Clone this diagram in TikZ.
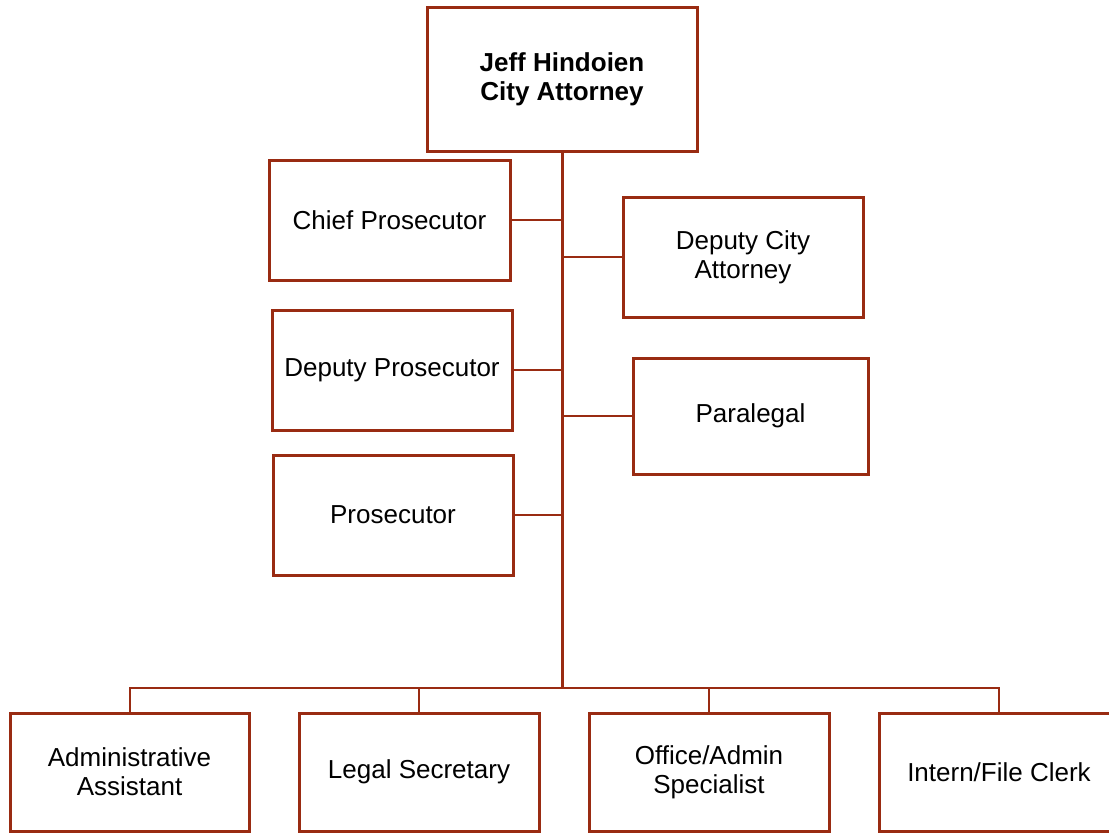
\documentclass[tikz,border=0pt]{standalone}
\usepackage{fontspec}
\setmainfont{Liberation Sans}
\definecolor{rust}{RGB}{153,43,18}
\begin{document}
\begin{tikzpicture}[x=1pt,y=-1pt,
  box/.style={draw=rust,line width=3pt,fill=white,rectangle,align=center,
    inner sep=0pt,font=\fontsize{26}{29}\selectfont},
  link/.style={draw=rust,line width=2pt},
  trunk/.style={draw=rust,line width=3pt}]
\clip (0,0) rectangle (1109,833);
\useasboundingbox (0,0) rectangle (1109,833);

% head of office
\node[box,minimum width=270pt,minimum height=144pt,font=\fontsize{26}{29}\selectfont\bfseries]
  (head) at (562,79) {Jeff Hindoien\\City Attorney};

% staff beside the trunk
\node[box,minimum width=241pt,minimum height=120pt] (chief) at (389.5,220) {Chief Prosecutor};
\node[box,minimum width=240pt,minimum height=120pt] (dca) at (743,257) {Deputy City\\Attorney};
\node[box,minimum width=240pt,minimum height=120pt] (dp) at (392,370) {Deputy Prosecutor};
\node[box,minimum width=235pt,minimum height=116pt] (para) at (750.5,416) {Paralegal};
\node[box,minimum width=240pt,minimum height=120pt] (pros) at (393,515) {Prosecutor};

% support staff row
\node[box,minimum width=239pt,minimum height=118pt] (admin) at (129.5,772) {Administrative\\Assistant};
\node[box,minimum width=240pt,minimum height=118pt] (legal) at (419,772) {Legal Secretary};
\node[box,minimum width=240pt,minimum height=118pt] (office) at (709,772) {Office/Admin\\Specialist};
\node[box,minimum width=240pt,minimum height=118pt] (intern) at (999,772) {Intern/File Clerk};

\coordinate (bus) at (562,688);

% connectors
\draw[link] (admin.north) |- (bus);
\draw[link] (legal.north) |- (bus);
\draw[link] (office.north) |- (bus);
\draw[link] (intern.north) |- (bus);
\draw[link] (chief.east) -- (chief.east -| bus);
\draw[link] (dp.east) -- (dp.east -| bus);
\draw[link] (pros.east) -- (pros.east -| bus);
\draw[link] (dca.west) -- (dca.west -| bus);
\draw[link] (para.west) -- (para.west -| bus);
\draw[trunk] (head.south) -- (bus);
\end{tikzpicture}
\end{document}
